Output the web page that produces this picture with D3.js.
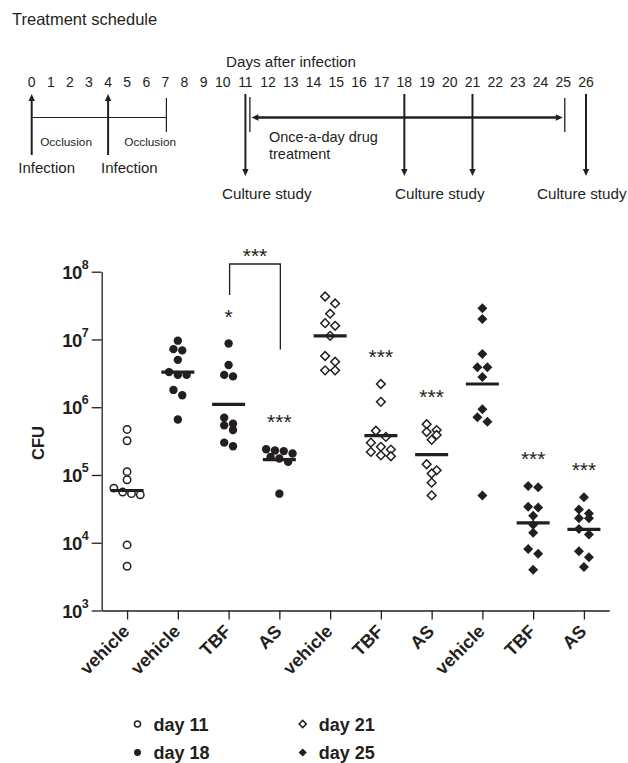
<!DOCTYPE html>
<html>
<head>
<meta charset="utf-8">
<script src="https://cdn.jsdelivr.net/npm/d3@7"></script>
<style>
  body { margin: 0; background: #fff; }
  text { font-family: "Liberation Sans", Arial, sans-serif; fill: #231f20; }
</style>
</head>
<body>
<div id="chart"></div>
<script>
// treatment schedule
const scheduleDays = [0, 1, 2, 3, 4, 5, 6, 7, 8, 9, 10, 11, 12, 13, 14, 15, 16, 17, 18, 19, 20, 21, 22, 23, 24, 25, 26];
const infectionDays = [0, 4];
const occlusionEnds = [7];
const cultureDays = [11, 18, 21, 26];
const treatmentDays = [11, 25];

// CFU per animal, one list per group
const groups = ["vehicle", "vehicle", "TBF", "AS", "vehicle", "TBF", "AS", "vehicle", "TBF", "AS"];
const groupDays = [11, 18, 18, 18, 21, 21, 21, 25, 25, 25];
const cfu = [
  [4.7e5, 3.2e5, 1.12e5, 8.5e4, 6.4e4, 5.6e4, 5.3e4, 5.1e4, 9.3e3, 4.5e3],
  [9.6e6, 7.2e6, 6.9e6, 5.0e6, 3.3e6, 3.0e6, 3.0e6, 1.8e6, 1.5e6, 6.6e5],
  [8.7e6, 4.2e6, 3.0e6, 2.85e6, 7.0e5, 5.7e5, 5.4e5, 4.6e5, 3.0e5, 2.65e5],
  [2.4e5, 2.3e5, 2.25e5, 2.07e5, 1.85e5, 1.75e5, 1.56e5, 5.3e4],
  [4.3e7, 3.4e7, 2.4e7, 1.74e7, 1.59e7, 1.13e7, 5.7e6, 4.7e6, 3.5e6, 3.5e6],
  [2.2e6, 1.2e6, 4.5e5, 3.65e5, 3.0e5, 2.6e5, 2.37e5, 2.19e5, 1.95e5, 1.89e5],
  [5.6e5, 4.6e5, 4.3e5, 3.9e5, 3.3e5, 1.44e5, 1.17e5, 1.05e5, 7.7e4, 5.0e4],
  [2.9e7, 2.0e7, 6.1e6, 3.9e6, 3.9e6, 2.8e6, 9.3e5, 7.1e5, 6.1e5, 5.0e4],
  [6.9e4, 6.6e4, 3.4e4, 3.3e4, 2.5e4, 1.84e4, 1.4e4, 8.1e3, 6.9e3, 4.0e3],
  [4.7e4, 3.1e4, 2.7e4, 2.3e4, 2.3e4, 1.6e4, 1.32e4, 7.5e3, 6.1e3, 4.4e3]
];
const medians = [5.9e4, 3.3e6, 1.1e6, 1.69e5, 1.13e7, 3.8e5, 2.0e5, 2.2e6, 1.97e4, 1.57e4];
const stars = ["", "", "*", "***", "", "***", "***", "", "***", "***"];
const yTicks = [1e3, 1e4, 1e5, 1e6, 1e7, 1e8];
const legendDays = [11, 18, 21, 25];

const ink = "#231f20";

const svg = d3.select("#chart").append("svg")
  .attr("width", 628)
  .attr("height", 763);

// ---------- schedule ----------
const sched = svg.append("g");

sched.append("text")
  .attr("x", 12).attr("y", 25)
  .attr("font-size", 16.5)
  .text("Treatment schedule");

const dayX = d3.scaleLinear().domain([0, 10, 26]).range([31.7, 222.7, 586]);

sched.append("text")
  .attr("x", 226).attr("y", 66.5)
  .attr("font-size", 15.2)
  .text("Days after infection");

sched.selectAll(".day")
  .data(scheduleDays)
  .enter().append("text")
  .attr("class", "day")
  .attr("x", d => dayX(d))
  .attr("y", 87)
  .attr("text-anchor", "middle")
  .attr("font-size", 14)
  .text(d => d);

function head(x, y, dir) {
  const L = 7, W = 3.2;
  let pts;
  if (dir === "up") pts = [[x, y], [x - W, y + L], [x + W, y + L]];
  if (dir === "down") pts = [[x, y], [x - W, y - L], [x + W, y - L]];
  if (dir === "left") pts = [[x, y], [x + L, y - W], [x + L, y + W]];
  if (dir === "right") pts = [[x, y], [x - L, y - W], [x - L, y + W]];
  sched.append("path").attr("d", d3.line()(pts) + "Z").attr("fill", ink);
}

function vline(x, y1, y2, w) {
  sched.append("line")
    .attr("x1", x).attr("x2", x).attr("y1", y1).attr("y2", y2)
    .attr("stroke", ink).attr("stroke-width", w);
}

// occlusion line
sched.append("line")
  .attr("x1", dayX(0)).attr("x2", dayX(occlusionEnds[0]) + 1)
  .attr("y1", 117.5).attr("y2", 117.5)
  .attr("stroke", ink).attr("stroke-width", 1.2);
vline(dayX(occlusionEnds[0]) + 1, 98, 132, 1.2);

// infection arrows
infectionDays.forEach(d => {
  vline(dayX(d), 155, 99, 2);
  head(dayX(d), 94, "up");
});

[["Occlusion", 1.8], ["Occlusion", 6.2]].forEach(([t, d]) => {
  sched.append("text")
    .attr("x", dayX(d)).attr("y", 146)
    .attr("text-anchor", "middle")
    .attr("font-size", 11.8)
    .text(t);
});
[18.3, 101].forEach(x => {
  sched.append("text")
    .attr("x", x).attr("y", 173)
    .attr("font-size", 15)
    .text("Infection");
});

// treatment arrow
const tStart = dayX(treatmentDays[0]) + 4.5;
const tEnd = dayX(treatmentDays[1]) + 1.5;
vline(tStart, 97, 132, 1.3);
vline(tEnd, 98, 132, 1.3);
sched.append("line")
  .attr("x1", tStart + 6).attr("x2", tEnd - 8)
  .attr("y1", 117.5).attr("y2", 117.5)
  .attr("stroke", ink).attr("stroke-width", 2.3);
head(tStart + 1.5, 117.5, "left");
head(tEnd - 2, 117.5, "right");

sched.append("text")
  .attr("x", 269).attr("y", 141.5)
  .attr("font-size", 14.5)
  .text("Once-a-day drug");
sched.append("text")
  .attr("x", 269).attr("y", 158.5)
  .attr("font-size", 14.5)
  .text("treatment");

// culture arrows
cultureDays.forEach(d => {
  vline(dayX(d), 94, 170, 2);
  head(dayX(d), 176, "down");
});
[222, 395, 537].forEach(x => {
  sched.append("text")
    .attr("x", x).attr("y", 198.5)
    .attr("font-size", 15.2)
    .text("Culture study");
});

// ---------- CFU plot ----------
const x = d3.scalePoint()
  .domain(d3.range(groups.length))
  .range([101.7, 609.3])
  .padding(0.5);

const y = d3.scaleLog()
  .domain([1e3, 1e8])
  .range([610.5, 271.7]);

const plot = svg.append("g");

const yAxis = plot.append("g")
  .attr("transform", "translate(101.7,0)")
  .call(d3.axisLeft(y).tickValues(yTicks).tickSize(10).tickSizeOuter(0).tickPadding(3));
yAxis.select(".domain").attr("stroke", ink).attr("stroke-width", 1.3);
yAxis.selectAll(".tick line").attr("stroke", ink).attr("stroke-width", 1.3);
yAxis.selectAll(".tick text")
  .attr("font-family", null)
  .attr("font-size", 18.5)
  .attr("font-weight", "bold")
  .attr("fill", ink)
  .attr("letter-spacing", -0.6)
  .attr("dy", "0.36em")
  .each(function (d) {
    const t = d3.select(this).text("");
    t.append("tspan").text("10");
    t.append("tspan")
      .attr("font-size", 12.5)
      .attr("letter-spacing", 0)
      .attr("dy", "-0.8em")
      .text(Math.round(Math.log10(d)));
  });

const xAxis = plot.append("g")
  .attr("transform", "translate(0,610.5)")
  .call(d3.axisBottom(x).tickSize(9).tickSizeOuter(0).tickFormat(i => groups[i]));
xAxis.select(".domain").attr("stroke", ink).attr("stroke-width", 1.3);
xAxis.selectAll(".tick line").attr("stroke", ink).attr("stroke-width", 1.3);
xAxis.selectAll(".tick text")
  .attr("font-family", null)
  .attr("font-size", 18)
  .attr("font-weight", "bold")
  .attr("fill", ink)
  .attr("text-anchor", "end")
  .attr("x", 0).attr("y", 0).attr("dy", 0)
  .attr("transform", "translate(3,22) rotate(-45)");

plot.append("text")
  .attr("transform", "translate(44,443) rotate(-90)")
  .attr("text-anchor", "middle")
  .attr("font-size", 16.5)
  .attr("font-weight", "bold")
  .text("CFU");

// marker shapes per culture day
function marker(sel, day, s) {
  const filled = day === 18 || day === 25;
  if (day === 11 || day === 18) {
    sel.append("circle")
      .attr("r", filled ? 4.2 * s : 3.7 * s)
      .attr("fill", filled ? ink : "#fff")
      .attr("stroke", ink)
      .attr("stroke-width", filled ? 0 : 1.5);
  } else {
    sel.append("path")
      .attr("d", d3.symbol(d3.symbolSquare, (filled ? 50 : 38) * s * s)())
      .attr("transform", "rotate(45)")
      .attr("fill", filled ? ink : "#fff")
      .attr("stroke", ink)
      .attr("stroke-width", filled ? 0 : 1.5);
  }
}

// spread points with nearly equal values side by side
function swarm(values, step) {
  const pts = values.map(v => ({ v: v, py: y(v) })).sort((a, b) => a.py - b.py);
  const rows = [];
  pts.forEach(p => {
    const row = rows[rows.length - 1];
    if (row && p.py - row[0].py < 7) row.push(p);
    else rows.push([p]);
  });
  rows.forEach(row => row.forEach((p, i) => { p.dx = (i - (row.length - 1) / 2) * step; }));
  return pts;
}

groups.forEach((g, i) => {
  const day = groupDays[i];
  const step = (day === 11 || day === 18) ? 8.8 : 10;
  const pts = swarm(cfu[i], step);
  const grp = plot.append("g");
  grp.selectAll("g")
    .data(pts)
    .enter().append("g")
    .attr("transform", p => `translate(${x(i) + p.dx},${p.py})`)
    .each(function () { marker(d3.select(this), day, 1); });

  grp.append("line")
    .attr("x1", x(i) - 16.5).attr("x2", x(i) + 16.5)
    .attr("y1", y(medians[i])).attr("y2", y(medians[i]))
    .attr("stroke", ink).attr("stroke-width", 3.2);

  if (stars[i]) {
    grp.append("text")
      .attr("x", x(i))
      .attr("y", y(d3.max(cfu[i])) - 20)
      .attr("text-anchor", "middle")
      .attr("font-size", 21)
      .text(stars[i]);
  }
});

// TBF vs AS comparison bracket on day 18
const bracket = { from: 2, to: 3, top: 10 ** 8.114, leftEnd: 10 ** 7.656, rightEnd: 10 ** 6.853 };
plot.append("path")
  .attr("d", d3.line()([
    [x(bracket.from) + 1, y(bracket.leftEnd)],
    [x(bracket.from) + 1, y(bracket.top)],
    [x(bracket.to) + 1, y(bracket.top)],
    [x(bracket.to) + 1, y(bracket.rightEnd)]
  ]))
  .attr("fill", "none")
  .attr("stroke", ink)
  .attr("stroke-width", 1.3);
plot.append("text")
  .attr("x", (x(bracket.from) + x(bracket.to)) / 2 + 1)
  .attr("y", y(bracket.top) - 1)
  .attr("text-anchor", "middle")
  .attr("font-size", 21)
  .text("***");

// ---------- legend ----------
const legend = svg.append("g");
legendDays.forEach((d, i) => {
  const lx = i < 2 ? 137.5 : 302.7;
  const ly = i % 2 === 0 ? 724 : 752.5;
  const m = legend.append("g").attr("transform", `translate(${lx},${ly})`);
  marker(m, d, 0.82);
  legend.append("text")
    .attr("x", lx + 16).attr("y", ly + 6.5)
    .attr("font-size", 18)
    .attr("font-weight", "bold")
    .text("day " + d);
});
</script>
</body>
</html>
